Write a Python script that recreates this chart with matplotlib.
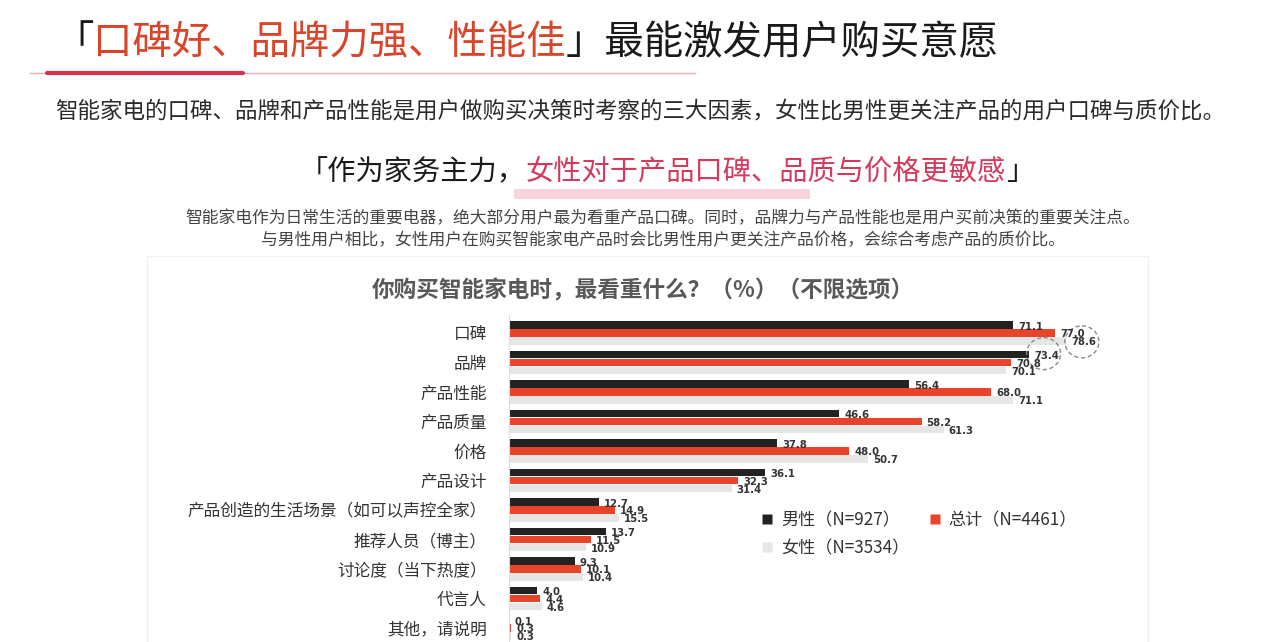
import matplotlib
matplotlib.use("Agg")
import matplotlib.pyplot as plt
from matplotlib.patches import Rectangle, Ellipse
from matplotlib.lines import Line2D

plt.rcParams['font.family'] = ['Noto Sans CJK SC', 'DejaVu Sans']

categories = ['口碑', '品牌', '产品性能', '产品质量', '价格', '产品设计',
              '产品创造的生活场景（如可以声控全家）', '推荐人员（博主）',
              '讨论度（当下热度）', '代言人', '其他，请说明']
male = [71.1, 73.4, 56.4, 46.6, 37.8, 36.1, 12.7, 13.7, 9.3, 4.0, 0.1]
total = [77.0, 70.8, 68.0, 58.2, 48.0, 32.3, 14.9, 11.5, 10.1, 4.4, 0.3]
female = [78.6, 70.1, 71.1, 61.3, 50.7, 31.4, 15.5, 10.9, 10.4, 4.6, 0.3]
series_labels = ['男性（N=927）', '总计（N=4461）', '女性（N=3534）']

W, H = 1280, 642
fig = plt.figure(figsize=(W / 100, H / 100), dpi=100)
fig.patch.set_facecolor('white')
renderer = fig.canvas.get_renderer()


def fx(x):
    return x / W


def fy(y):
    return 1 - y / H


def chain_text(x, y, pieces, size, weight='normal'):
    cur = x
    for s, c in pieces:
        t = fig.text(fx(cur), fy(y), s, color=c, fontsize=size, weight=weight,
                     ha='left', va='center')
        bb = t.get_window_extent(renderer)
        cur += bb.width


# --- Title
chain_text(54, 43, [('「', '#1a1a1a'), ('口碑好、品牌力强、性能佳', '#D8452B'),
                     ('」最能激发用户购买意愿', '#1a1a1a')], 28.4)
fig.add_artist(Line2D([fx(30), fx(695)], [fy(73), fy(73)], color='#EFA9B3', lw=1.0))
fig.add_artist(Line2D([fx(47), fx(243)], [fy(73), fy(73)], color='#D8324A', lw=3.0,
                      solid_capstyle='round'))

# --- Subtitle
fig.text(fx(55), fy(111), '智能家电的口碑、品牌和产品性能是用户做购买决策时考察的三大因素，女性比男性更关注产品的用户口碑与质价比。',
         fontsize=16.2, color='#2a2a2a', ha='left', va='center')

# --- Second heading with highlight band
fig.add_artist(Rectangle((fx(514), fy(199)), fx(810) - fx(514), (199 - 189) / H,
                         facecolor='#F9D3DB', edgecolor='none'))
chain_text(300, 172, [('「作为家务主力，', '#1a1a1a'),
                      ('女性对于产品口碑、品质与价格更敏感', '#D43A5C'),
                      ('」', '#1a1a1a')], 20.3)

# --- Small description
fig.text(fx(663), fy(219), '智能家电作为日常生活的重要电器，绝大部分用户最为看重产品口碑。同时，品牌力与产品性能也是用户买前决策的重要关注点。',
         fontsize=12.1, color='#444444', ha='center', va='center')
fig.text(fx(663), fy(241), '与男性用户相比，女性用户在购买智能家电产品时会比男性用户更关注产品价格，会综合考虑产品的质价比。',
         fontsize=12.1, color='#444444', ha='center', va='center')

# --- Chart frame
fig.add_artist(Rectangle((fx(147), fy(660)), fx(1148) - fx(147), (660 - 256) / H,
                         facecolor='none', edgecolor='#F2F2F2', lw=1.0))

# --- Chart title
fig.text(fx(643), fy(291), '你购买智能家电时，最看重什么？（%）（不限选项）',
         fontsize=16.3, weight='bold', color='#595959', ha='center', va='center')

# --- Axes
px_per_unit = 7.09
spacing = 29.5
y0 = 333
x0 = 509
top_units = -0.6
bottom_units = (H - y0) / spacing
top_px = y0 + top_units * spacing
ax = fig.add_axes([fx(x0), 0, 100 * px_per_unit / W, (H - top_px) / H])
ax.set_xlim(0, 100)
ax.set_ylim(bottom_units, top_units)
ax.set_facecolor('none')

colors = ['#222222', '#E8442A', '#E6E6E6']
bh = 0.255
offsets = [-0.27, 0.0, 0.27]
ys = list(range(len(categories)))
for vals, col, off in zip([male, total, female], colors, offsets):
    pos = [y + off for y in ys]
    ax.barh(pos, vals, height=bh, color=col, edgecolor='none')
    for p, v in zip(pos, vals):
        ax.text(v + 0.7, p + 0.05, f'{v:.1f}', fontsize=7.3, weight='bold',
                color='#333333', ha='left', va='center', family='DejaVu Sans')

ax.set_yticks(ys)
ax.set_yticklabels(categories, fontsize=12, color='#333333')
ax.tick_params(axis='y', length=0, pad=16)
ax.set_xticks([])
for s in ['top', 'right', 'bottom']:
    ax.spines[s].set_visible(False)
ax.spines['left'].set_color('#DDDDDD')
ax.spines['left'].set_linewidth(0.8)

# dashed circles highlighting values
ax.add_patch(Ellipse((female[0] + 2.2, 0 + 0.3), 34 / px_per_unit, 32 / spacing,
                     fill=False, ls=(0, (3, 2)), edgecolor='#888888', lw=1.0, clip_on=False))
ax.add_patch(Ellipse((male[1] + 2.0, 1 - 0.3), 34 / px_per_unit, 32 / spacing,
                     fill=False, ls=(0, (3, 2)), edgecolor='#888888', lw=1.0, clip_on=False))

# --- Legend
handles = [Line2D([], [], marker='s', ls='', markersize=6.5, color=c, markeredgecolor='none')
           for c in colors]
order = [0, 2, 1]
fig.legend([handles[i] for i in order], [series_labels[i] for i in order],
           loc='upper left', bbox_to_anchor=(fx(762), fy(511)), ncol=2,
           frameon=False, fontsize=12.3, handlelength=0.6, handletextpad=0.5,
           columnspacing=1.2, labelspacing=0.6, borderpad=0, borderaxespad=0,
           labelcolor='#333333')

fig.savefig('out.png', dpi=100, facecolor='white')
